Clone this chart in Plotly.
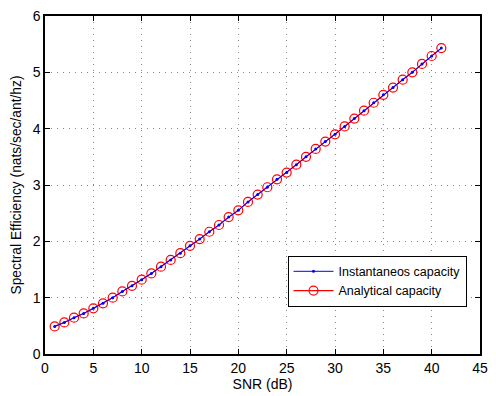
import plotly.graph_objects as go

snr_db = list(range(1, 42))
instantaneous = [0.49, 0.56, 0.645, 0.72, 0.81, 0.90, 1.00, 1.11, 1.21, 1.32,
                 1.43, 1.55, 1.67, 1.79, 1.92, 2.04, 2.17, 2.29, 2.43, 2.55,
                 2.70, 2.83, 2.96, 3.10, 3.22, 3.36, 3.50, 3.64, 3.77, 3.90,
                 4.04, 4.18, 4.32, 4.46, 4.60, 4.73, 4.87, 5.00, 5.15, 5.29, 5.43]
analytical = list(instantaneous)
x_ticks = [0, 5, 10, 15, 20, 25, 30, 35, 40, 45]
y_ticks = [0, 1, 2, 3, 4, 5, 6]

font = "Liberation Sans, Arial, Helvetica, sans-serif"

fig = go.Figure()
fig.add_trace(go.Scatter(x=snr_db, y=analytical, mode="lines+markers",
                         name="Analytical capacity",
                         line=dict(color="#ff0000", width=1.2),
                         marker=dict(symbol="circle-open", size=9, color="#ff0000",
                                     line=dict(width=1.2))))
fig.add_trace(go.Scatter(x=snr_db, y=instantaneous, mode="lines+markers",
                         name="Instantaneos capacity",
                         line=dict(color="#0000ff", width=1),
                         marker=dict(symbol="circle", size=3, color="#0000ff")))

axis_common = dict(showline=True, linecolor="black", linewidth=1.5, mirror="ticks",
                   ticks="inside", ticklen=5, tickcolor="black",
                   showgrid=True, gridcolor="#8a8a8a", griddash="1px,5px", gridwidth=1,
                   zeroline=False, tickfont=dict(family=font, size=14, color="black"))

fig.update_layout(
    width=496, height=396,
    margin=dict(l=45, r=10, t=8, b=40),
    paper_bgcolor="white", plot_bgcolor="white",
    font=dict(family=font, size=12, color="black"),
    showlegend=True,
    legend=dict(x=0.969, y=0.14, xanchor="right", yanchor="bottom",
                bordercolor="black", borderwidth=1, bgcolor="white",
                traceorder="reversed",
                font=dict(family=font, size=12.5, color="black"),
                itemwidth=40, tracegroupgap=0),
    xaxis=dict(range=[0, 45], tickvals=x_ticks,
               title=dict(text="SNR (dB)", standoff=3, font=dict(family=font, size=14)),
               **axis_common),
    yaxis=dict(range=[0, 6], tickvals=y_ticks,
               title=dict(text="Spectral Efficiency (nats/sec/ant/hz)", standoff=8,
                          font=dict(family=font, size=13.8)),
               **axis_common),
)

fig.write_html("out.html")
